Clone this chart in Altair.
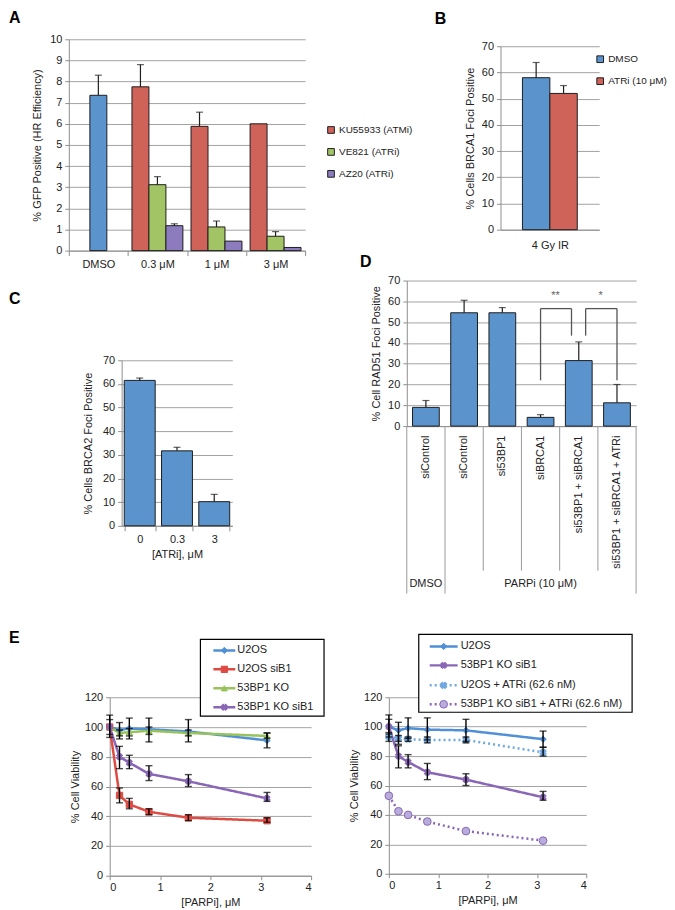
import altair as alt
import pandas as pd

FONT = "Liberation Sans"
FS = 11
TXT = "#222222"
GRID = "#a3a3a3"
AXC = "#8f8f8f"
OUT = "#1e1e1e"
BAR_BLUE = "#5b93cd"
BAR_RED = "#cf6259"
BAR_GREEN = "#a2c465"
BAR_PURPLE = "#8d7cbd"
LN_BLUE = "#4f90d6"
LN_RED = "#dd4b43"
LN_GREEN = "#98c25a"
LN_PURPLE = "#8a67b6"
LN_BLUE_L = "#6fa9e0"
LAV = "#b7acdc"

# ---------------- data ----------------
# A
A_GROUPS = ["DMSO", "0.3 μM", "1 μM", "3 μM"]
A_SERIES_NAMES = ["DMSO", "KU55933 (ATMi)", "VE821 (ATRi)", "AZ20 (ATRi)"]
A_GROUP = ["DMSO", "0.3 μM", "0.3 μM", "0.3 μM", "1 μM", "1 μM", "1 μM", "3 μM", "3 μM", "3 μM"]
A_SERIES = ["DMSO",
            "KU55933 (ATMi)", "VE821 (ATRi)", "AZ20 (ATRi)",
            "KU55933 (ATMi)", "VE821 (ATRi)", "AZ20 (ATRi)",
            "KU55933 (ATMi)", "VE821 (ATRi)", "AZ20 (ATRi)"]
A_VALUE = [7.35, 7.75, 3.12, 1.18, 5.88, 1.12, 0.45, 6.0, 0.68, 0.15]
A_ERR = [0.95, 1.05, 0.38, 0.09, 0.67, 0.28, 0.0, 0.0, 0.22, 0.0]

# B
B_COND = "4 Gy IR"
B_SERIES = ["DMSO", "ATRi (10 μM)"]
B_VALUE = [58.0, 52.0]
B_ERR = [5.8, 3.0]

# C
C_CATS = ["0", "0.3", "3"]
C_VALUE = [61.5, 31.7, 10.2]
C_ERR = [1.0, 1.5, 3.1]

# D
D_KEYS = ["DMSO|siControl", "PARPi|siControl", "PARPi|si53BP1", "PARPi|siBRCA1",
          "PARPi|si53BP1 + siBRCA1", "PARPi|si53BP1 + siBRCA1 + ATRi"]
D_VALUE = [9.0, 54.5, 54.5, 4.2, 31.5, 11.2]
D_ERR = [3.3, 6.0, 2.5, 1.3, 9.0, 8.8]
D_TREAT = ["DMSO", "PARPi (10 μM)"]
SIG_LEFT = ["PARPi|siBRCA1", "PARPi|si53BP1 + siBRCA1"]
SIG_RIGHT = ["PARPi|si53BP1 + siBRCA1", "PARPi|si53BP1 + siBRCA1 + ATRi"]
SIG_STAR_AT = ["PARPi|siBRCA1", "PARPi|si53BP1 + siBRCA1 + ATRi"]
SIG_TOP = [56.5, 56.5]
SIG_FOOT_L = [22.0, 43.5]
SIG_FOOT_R = [43.5, 22.0]
SIG_TEXT = ["**", "*"]
SIG_TEXT_Y = [62.5, 62.5]

# E
E_X = [0, 0.195, 0.39, 0.78, 1.5625, 3.125]
E1_SERIES = ["U2OS", "U2OS siB1", "53BP1 KO", "53BP1 KO siB1"]
E1_U2OS = [100, 98, 99, 98.5, 97, 91]
E1_U2OS_LO = [93, 92, 92, 90, 90, 86]
E1_U2OS_HI = [108, 103, 106, 106, 105, 96]
E1_SIB1 = [100, 54, 48, 43, 39, 37]
E1_SIB1_LO = [None, 49, 45, 41, 37, 36]
E1_SIB1_HI = [None, 59, 52, 45, 41, 39]
E1_KO = [100, 96, 96.5, 97.5, 96, 94]
E1_KO_LO = [None, 94, 94, 95, 94, 92.5]
E1_KO_HI = [None, 98, 99, 100, 98, 96]
E1_KOSIB1 = [100, 80, 76, 68.5, 63.5, 52]
E1_KOSIB1_LO = [95, 72, 72, 64, 60, 50]
E1_KOSIB1_HI = [105, 87, 81, 74, 68, 56]

E2_SERIES = ["U2OS", "53BP1 KO siB1", "U2OS + ATRi (62.6 nM)", "53BP1 KO siB1 + ATRi (62.6 nM)"]
E2_U2OS = [100, 97.5, 99, 98, 97.5, 91.5]
E2_U2OS_LO = [93, 88, 92, 91, 90, 86]
E2_U2OS_HI = [108, 103, 106, 106, 105, 97]
E2_KOSIB1 = [100, 80, 76, 69, 64, 52]
E2_KOSIB1_LO = [95, 72, 72, 64, 60, 50]
E2_KOSIB1_HI = [105, 87, 81, 75, 68, 56]
E2_U2OS_ATRI = [93, 92, 91.5, 91, 91, 82.5]
E2_U2OS_ATRI_LO = [90, 90, 90, 89, 89, 80]
E2_U2OS_ATRI_HI = [96, 94, 93, 93, 93, 86]
E2_KOSIB1_ATRI = [53, 42.5, 40, 35.5, 29, 22.5]
E2_KOSIB1_ATRI_LO = [None] * 6
E2_KOSIB1_ATRI_HI = [None] * 6


# ---------------- helpers ----------------
def y_axis(title, values, title_pad):
    return alt.Axis(title=title, values=values, grid=True, gridColor=GRID, gridWidth=1,
                    domain=True, domainColor=AXC, ticks=True, tickColor=AXC, tickSize=4,
                    labelFont=FONT, labelFontSize=FS, labelColor=TXT, labelPadding=3,
                    titleFont=FONT, titleFontSize=FS, titleFontWeight="normal",
                    titleColor=TXT, titlePadding=title_pad)


def x_band_axis(title=None, title_pad=4):
    return alt.Axis(title=title, labelAngle=0, domainColor=AXC, tickColor=AXC,
                    tickBand="extent", tickSize=5, labelFont=FONT, labelFontSize=FS,
                    labelColor=TXT, labelPadding=3, titleFont=FONT, titleFontSize=FS,
                    titleFontWeight="normal", titleColor=TXT, titlePadding=title_pad,
                    grid=False)


def letter(ch, dx, dy):
    return alt.Chart(pd.DataFrame({"t": [ch]})).mark_text(
        font=FONT, fontSize=16, fontWeight="bold", align="left", baseline="middle",
        color="#000000").encode(text="t:N", x=alt.value(dx), y=alt.value(dy))


def spacer(w, h):
    return alt.Chart(pd.DataFrame({"v": [0]})).mark_point(opacity=0, size=1).encode(
        x=alt.value(0), y=alt.value(0)).properties(width=w, height=h)


def sq_legend(lx, ly, row_pad, values):
    return alt.Legend(title=None, values=values, orient="none", legendX=lx, legendY=ly,
                      symbolType="square", symbolSize=45, symbolStrokeWidth=1,
                      labelFont=FONT, labelFontSize=10, labelColor=TXT, rowPadding=row_pad,
                      labelOffset=3, padding=0)


# ---------------- Panel A ----------------
a_df = pd.DataFrame({"group": A_GROUP, "series": A_SERIES, "value": A_VALUE, "err": A_ERR})
slot_of = {"DMSO": "m", A_SERIES_NAMES[1]: "l", A_SERIES_NAMES[2]: "m", A_SERIES_NAMES[3]: "r"}
a_df["slot"] = a_df["series"].map(slot_of)
a_df["top"] = a_df["value"] + a_df["err"]

a_ysc = alt.Scale(domain=[0, 10], nice=False)
a_yax = y_axis("% GFP Positive (HR Efficiency)", list(range(0, 11)), 7)
a_base = alt.Chart(a_df).encode(
    x=alt.X("group:N", scale=alt.Scale(domain=A_GROUPS, paddingInner=0, paddingOuter=0),
            axis=x_band_axis()),
    xOffset=alt.XOffset("slot:N", scale=alt.Scale(domain=["l", "m", "r"], paddingInner=0,
                                                  paddingOuter=0.24)),
)
a_bars = a_base.mark_bar(stroke=OUT, strokeWidth=1).encode(
    y=alt.Y("value:Q", scale=a_ysc, axis=a_yax),
    color=alt.Color("series:N", scale=alt.Scale(domain=A_SERIES_NAMES,
                                                range=[BAR_BLUE, BAR_RED, BAR_GREEN, BAR_PURPLE]),
                    legend=sq_legend(258, 86, 10, A_SERIES_NAMES[1:])),
)
a_err = a_base.transform_filter("datum.err > 0").mark_rule(color=OUT, strokeWidth=1.2).encode(
    y=alt.Y("value:Q", scale=a_ysc, axis=a_yax), y2="top:Q")
a_cap = a_base.transform_filter("datum.err > 0").mark_tick(color=OUT, thickness=1.2, size=7).encode(
    y=alt.Y("top:Q", scale=a_ysc, axis=a_yax))
panel_a = alt.layer(a_bars, a_err, a_cap, letter("A", -60, -21)).properties(width=237, height=212)

# ---------------- Panel B ----------------
b_df = pd.DataFrame({"cond": [B_COND] * len(B_SERIES), "series": B_SERIES,
                     "value": B_VALUE, "err": B_ERR})
b_df["top"] = b_df["value"] + b_df["err"]
b_ysc = alt.Scale(domain=[0, 70], nice=False)
b_yax = y_axis("% Cells BRCA1 Foci Positive", list(range(0, 71, 10)), 6)
b_x = alt.X("series:N", scale=alt.Scale(domain=B_SERIES, paddingInner=0, paddingOuter=0.8),
            axis=alt.Axis(title=B_COND, labels=False, ticks=False, domainColor=AXC, grid=False,
                          titleFont=FONT, titleFontSize=FS, titleFontWeight="normal",
                          titleColor=TXT, titlePadding=10))
b_base = alt.Chart(b_df).encode(x=b_x)
b_bars = b_base.mark_bar(stroke=OUT, strokeWidth=1).encode(
    y=alt.Y("value:Q", scale=b_ysc, axis=b_yax),
    color=alt.Color("series:N", scale=alt.Scale(domain=B_SERIES, range=[BAR_BLUE, BAR_RED]),
                    legend=sq_legend(95, 8, 10, B_SERIES)),
)
b_err = b_base.mark_rule(color=OUT, strokeWidth=1.2).encode(
    y=alt.Y("value:Q", scale=b_ysc, axis=b_yax), y2="top:Q")
b_cap = b_base.mark_tick(color=OUT, thickness=1.2, size=7).encode(
    y=alt.Y("top:Q", scale=b_ysc, axis=b_yax))
panel_b = alt.layer(b_bars, b_err, b_cap, letter("B", -66, -27)).properties(width=99, height=184)

# ---------------- Panel C ----------------
c_df = pd.DataFrame({"cat": C_CATS, "value": C_VALUE, "err": C_ERR})
c_df["top"] = c_df["value"] + c_df["err"]
c_ysc = alt.Scale(domain=[0, 70], nice=False)
c_yax = y_axis("% Cells BRCA2 Foci Positive", list(range(0, 71, 10)), 9)
c_base = alt.Chart(c_df).encode(
    x=alt.X("cat:N", scale=alt.Scale(domain=C_CATS, paddingInner=0.17, paddingOuter=0.07),
            axis=x_band_axis("[ATRi], μM", 4)))
c_bars = c_base.mark_bar(stroke=OUT, strokeWidth=1, color=BAR_BLUE).encode(
    y=alt.Y("value:Q", scale=c_ysc, axis=c_yax))
c_err = c_base.mark_rule(color=OUT, strokeWidth=1.2).encode(
    y=alt.Y("value:Q", scale=c_ysc, axis=c_yax), y2="top:Q")
c_cap = c_base.mark_tick(color=OUT, thickness=1.2, size=7).encode(
    y=alt.Y("top:Q", scale=c_ysc, axis=c_yax))
panel_c = alt.layer(c_bars, c_err, c_cap, letter("C", -113, -61)).properties(width=111, height=166)

# ---------------- Panel D ----------------
d_df = pd.DataFrame({"key": D_KEYS, "value": D_VALUE, "err": D_ERR})
d_df["top"] = d_df["value"] + d_df["err"]
d_xsc = alt.Scale(domain=D_KEYS, paddingInner=0, paddingOuter=0)
d_xax = alt.Axis(title=None, labelAngle=-90, labelExpr="split(datum.label, '|')[1]",
                 ticks=False, domainColor=AXC, labelFont=FONT, labelFontSize=FS,
                 labelColor=TXT, labelPadding=9, labelLimit=300, grid=False)
d_ysc = alt.Scale(domain=[0, 70], nice=False)
d_yax = y_axis("% Cell RAD51 Foci Positive", list(range(0, 71, 10)), 6)


def dx(field, bp=0.5):
    return alt.X(field + ":N", scale=d_xsc, axis=d_xax, bandPosition=bp)


def dy(field):
    return alt.Y(field + ":Q", scale=d_ysc, axis=d_yax)


d_bars = alt.Chart(d_df).mark_bar(stroke=OUT, strokeWidth=1, color=BAR_BLUE,
                                  width=alt.RelativeBandSize(0.7)).encode(
    x=alt.X("key:N", scale=d_xsc, axis=d_xax), y=dy("value"))
d_err = alt.Chart(d_df).mark_rule(color=OUT, strokeWidth=1.2).encode(
    x=dx("key"), y=dy("value"), y2="top:Q")
d_cap = alt.Chart(d_df).mark_tick(color=OUT, thickness=1.2, size=7).encode(
    x=dx("key"), y=dy("top"))

sep_col = "#9a9a9a"
d_long0 = alt.Chart(pd.DataFrame({"key": D_KEYS[:2]})).mark_rule(color=sep_col).encode(
    x=dx("key", 0), y=alt.value(146), y2=alt.value(314))
d_long1 = alt.Chart(pd.DataFrame({"key": D_KEYS[5:]})).mark_rule(color=sep_col).encode(
    x=dx("key", 1), y=alt.value(146), y2=alt.value(314))
d_short = alt.Chart(pd.DataFrame({"key": D_KEYS[2:]})).mark_rule(color=sep_col).encode(
    x=dx("key", 0), y=alt.value(146), y2=alt.value(291))
treat_df = pd.DataFrame({"key": [D_KEYS[0], D_KEYS[3]], "label": D_TREAT})
d_treat = alt.Chart(treat_df).mark_text(font=FONT, fontSize=FS, color=TXT, baseline="middle").encode(
    x=dx("key"), y=alt.value(304), text="label:N")

sig_layers = []
bp_spec = [(0.5, 0.31, 0.89), (0.68, 0.5, 0.07)]
br_col = "#555555"
for i in range(len(SIG_LEFT)):
    sdf = pd.DataFrame({"l": [SIG_LEFT[i]], "r": [SIG_RIGHT[i]], "s": [SIG_STAR_AT[i]],
                        "top": [SIG_TOP[i]], "fl": [SIG_FOOT_L[i]], "fr": [SIG_FOOT_R[i]],
                        "txt": [SIG_TEXT[i]], "ty": [SIG_TEXT_Y[i]]})
    lbp, rbp, sbp = bp_spec[i]
    sig_layers.append(alt.Chart(sdf).mark_rule(color=br_col, strokeWidth=1.3).encode(
        x=dx("l", lbp), y=dy("fl"), y2="top:Q"))
    sig_layers.append(alt.Chart(sdf).mark_rule(color=br_col, strokeWidth=1.3).encode(
        x=dx("r", rbp), y=dy("fr"), y2="top:Q"))
    sig_layers.append(alt.Chart(sdf).mark_rule(color=br_col, strokeWidth=1.3).encode(
        x=dx("l", lbp), x2=alt.X2("r:N", bandPosition=rbp), y=dy("top")))
    sig_layers.append(alt.Chart(sdf).mark_text(font=FONT, fontSize=11, color="#666666",
                                               baseline="middle").encode(
        x=dx("s", sbp), y=dy("ty"), text="txt:N"))

panel_d = alt.layer(d_bars, d_err, d_cap, d_long0, d_long1, d_short, d_treat, *sig_layers,
                    letter("D", -47, -19)).properties(width=230, height=146)


# ---------------- Panel E ----------------
def e_panel(names, vals, los, his, line_cols, dashes, marks, box, line_x, text_x, row_y,
            w, h, extra):
    rows, erows = [], []
    for n, v, lo, hi in zip(names, vals, los, his):
        for xx, yy, l, u in zip(E_X, v, lo, hi):
            rows.append({"series": n, "x": xx, "y": yy})
            if l is not None:
                erows.append({"series": n, "x": xx, "lo": l, "hi": u})
    df = pd.DataFrame(rows)
    edf = pd.DataFrame(erows)
    xenc = alt.X("x:Q", scale=alt.Scale(domain=[0, 4], nice=False),
                 axis=alt.Axis(values=[0, 1, 2, 3, 4], grid=False, domainColor=AXC, tickColor=AXC,
                               tickSize=4, labelFont=FONT, labelFontSize=FS, labelColor=TXT,
                               labelPadding=2, title="[PARPi], μM", titleFont=FONT,
                               titleFontSize=FS, titleFontWeight="normal", titleColor=TXT,
                               titlePadding=4))
    ysc = alt.Scale(domain=[0, 120], nice=False)
    yax = y_axis("% Cell Viability", list(range(0, 121, 20)), 4)

    def ye(f):
        return alt.Y(f + ":Q", scale=ysc, axis=yax)

    lines = alt.Chart(df).mark_line(strokeWidth=2.5).encode(
        x=xenc, y=ye("y"),
        stroke=alt.Stroke("series:N", scale=alt.Scale(domain=names, range=line_cols), legend=None),
        strokeDash=alt.StrokeDash("series:N", scale=alt.Scale(domain=names, range=dashes),
                                  legend=None))
    pts = []
    for n, (shape, fill, stroke, size, angle) in zip(names, marks):
        pts.append(alt.Chart(df).transform_filter(alt.datum.series == n).mark_point(
            shape=shape, filled=True, fill=fill, stroke=stroke, strokeWidth=1, size=size,
            angle=angle, opacity=1).encode(x=xenc, y=ye("y")))
    ebar = alt.Chart(edf).mark_rule(color="#000000", strokeWidth=1.4).encode(
        x=xenc, y=ye("lo"), y2="hi:Q")
    ecap_lo = alt.Chart(edf).mark_tick(color="#000000", orient="horizontal", size=7,
                                       thickness=1.4).encode(x=xenc, y=ye("lo"))
    ecap_hi = alt.Chart(edf).mark_tick(color="#000000", orient="horizontal", size=7,
                                       thickness=1.4).encode(x=xenc, y=ye("hi"))
    # legend box with one entry per series
    one = pd.DataFrame({"v": [0]})
    leg = [alt.Chart(one).mark_rect(fill="#ffffff", stroke="#000000", strokeWidth=1.2).encode(
        x=alt.value(box[0]), x2=alt.value(box[1]), y=alt.value(box[2]), y2=alt.value(box[3]))]
    for i, n in enumerate(names):
        shape, fill, stroke, size, angle = marks[i]
        leg.append(alt.Chart(one).mark_rule(color=line_cols[i], strokeWidth=2.5,
                                            strokeDash=dashes[i]).encode(
            x=alt.value(line_x[0]), x2=alt.value(line_x[1]), y=alt.value(row_y[i])))
        leg.append(alt.Chart(one).mark_point(shape=shape, filled=True, fill=fill, stroke=stroke,
                                             strokeWidth=1, size=size, angle=angle,
                                             opacity=1).encode(
            x=alt.value((line_x[0] + line_x[1]) / 2), y=alt.value(row_y[i])))
        leg.append(alt.Chart(pd.DataFrame({"t": [n]})).mark_text(
            font=FONT, fontSize=FS, color=TXT, align="left", baseline="middle").encode(
            text="t:N", x=alt.value(text_x), y=alt.value(row_y[i])))
    return alt.layer(lines, *pts, ebar, ecap_lo, ecap_hi, *leg, *extra).properties(width=w, height=h)


panel_e1 = e_panel(
    E1_SERIES, [E1_U2OS, E1_SIB1, E1_KO, E1_KOSIB1],
    [E1_U2OS_LO, E1_SIB1_LO, E1_KO_LO, E1_KOSIB1_LO],
    [E1_U2OS_HI, E1_SIB1_HI, E1_KO_HI, E1_KOSIB1_HI],
    [LN_BLUE, LN_RED, LN_GREEN, LN_PURPLE],
    [[1, 0], [1, 0], [1, 0], [1, 0]],
    [("diamond", LN_BLUE, LN_BLUE, 40, 0), ("square", LN_RED, LN_RED, 40, 0),
     ("triangle-up", LN_GREEN, LN_GREEN, 36, 0), ("cross", LN_PURPLE, LN_PURPLE, 36, 45)],
    (91, 215, -58, 19), (104, 126), 128, [-47, -28, -9, 10],
    202, 179, [letter("E", -101, -59)])

panel_e2 = e_panel(
    E2_SERIES, [E2_U2OS, E2_KOSIB1, E2_U2OS_ATRI, E2_KOSIB1_ATRI],
    [E2_U2OS_LO, E2_KOSIB1_LO, E2_U2OS_ATRI_LO, E2_KOSIB1_ATRI_LO],
    [E2_U2OS_HI, E2_KOSIB1_HI, E2_U2OS_ATRI_HI, E2_KOSIB1_ATRI_HI],
    [LN_BLUE, LN_PURPLE, LN_BLUE_L, LN_PURPLE],
    [[1, 0], [1, 0], [2, 3], [2, 3]],
    [("diamond", LN_BLUE, LN_BLUE, 40, 0), ("cross", LN_PURPLE, LN_PURPLE, 36, 45),
     ("cross", LN_BLUE_L, LN_BLUE_L, 40, 45), ("circle", LAV, LN_PURPLE, 60, 0)],
    (30, 244, -63, 15), (41, 69), 72, [-51, -32, -12, 7],
    198, 177, [])


# ---------------- layout ----------------
def at_top(h, panel):
    return alt.vconcat(spacer(1, h), panel, spacing=0, bounds="flush").resolve_scale(
        color="independent", stroke="independent", strokeDash="independent").resolve_legend(
        color="independent")


items = [
    spacer(60, 1), at_top(29, panel_a),
    spacer(41, 1), at_top(689, panel_e1),
    spacer(12, 1), at_top(351, panel_c),
    spacer(268, 1), at_top(689, panel_e2),
    spacer(18, 1), at_top(271, panel_d),
    spacer(94, 1), at_top(36, panel_b),
]

chart = alt.hconcat(*items, spacing=0, bounds="flush", padding=0)
chart = chart.resolve_scale(color="independent", stroke="independent", strokeDash="independent")
chart = chart.resolve_legend(color="independent")
chart = chart.configure_view(strokeWidth=0)

chart.save("out.html", embed_options={"renderer": "svg", "actions": False})
